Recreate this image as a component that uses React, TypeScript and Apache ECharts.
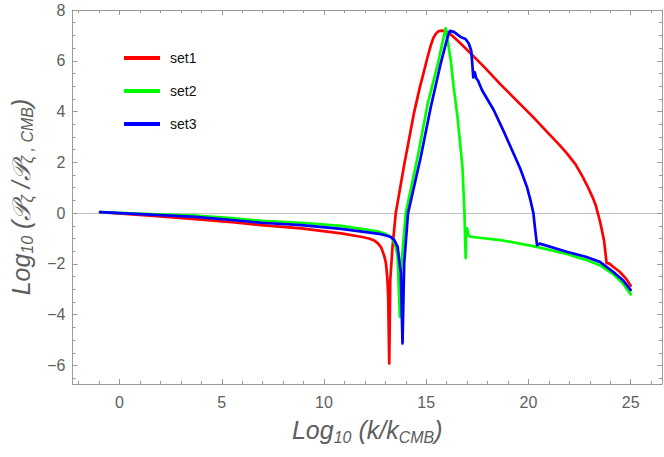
import React, { useEffect, useRef } from "react";
import * as echarts from "echarts";

const seriesNames = ["set1", "set2", "set3"];
const seriesColors = ["#ff0000", "#00ff00", "#0000ff"];

const set1: [number, number][] = [
  [-0.95, 0.04], [1.5, -0.1], [3.7, -0.24], [5.5, -0.36], [6.94, -0.47], [8.89, -0.6],
  [10.84, -0.8], [11.8, -0.93], [12.2, -1.0], [12.46, -1.08], [12.65, -1.2], [12.8, -1.36],
  [12.95, -1.7], [13.03, -1.98], [13.1, -2.6], [13.14, -3.3], [13.19, -5.92], [13.22, -4.0],
  [13.24, -2.64], [13.35, -1.33], [13.51, 0], [13.9, 1.81], [14.4, 3.94], [14.7, 5.0],
  [14.88, 5.55], [15.05, 6.1], [15.22, 6.6], [15.35, 6.9], [15.46, 7.05], [15.56, 7.14],
  [15.65, 7.17], [15.75, 7.19], [15.85, 7.18], [16.04, 7.13], [16.3, 6.97], [16.67, 6.69],
  [17.16, 6.3], [17.9, 5.7], [18.62, 5.08], [19.4, 4.45], [20.23, 3.78], [21.0, 3.12],
  [21.5, 2.7], [21.88, 2.35], [22.3, 1.92], [22.66, 1.42], [22.95, 0.95], [23.15, 0.6],
  [23.3, 0.28], [23.39, 0], [23.5, -0.33], [23.59, -0.67], [23.7, -1.1], [23.82, -1.97],
  [23.94, -1.98], [24.14, -2.11], [24.46, -2.31], [24.79, -2.6], [25.0, -2.86],
];

const set2: [number, number][] = [
  [-0.95, 0.04], [1.5, -0.04], [3.7, -0.1], [5.5, -0.2], [6.94, -0.3], [8.89, -0.38],
  [10.84, -0.5], [12.14, -0.66], [12.7, -0.74], [12.95, -0.8], [13.2, -0.9], [13.35, -1.0],
  [13.5, -1.3], [13.6, -1.72], [13.71, -4.08], [13.79, -1.98], [14.0, 0], [14.6, 2.3],
  [15.07, 4.3], [15.56, 5.85], [15.85, 6.93], [15.95, 7.28], [16.2, 6.02], [16.34, 4.96],
  [16.53, 3.78], [16.77, 1.81], [16.87, 0], [16.9, -1.0], [16.93, -1.77], [16.96, -0.7],
  [17.0, -0.6], [17.05, -0.85], [17.16, -0.93], [18.62, -1.06], [20.41, -1.33], [21.87, -1.61],
  [22.8, -1.84], [23.49, -2.05], [24.14, -2.4], [24.62, -2.77], [25.0, -3.2],
];

const set3: [number, number][] = [
  [-0.95, 0.04], [1.5, -0.06], [3.7, -0.15], [5.5, -0.27], [6.94, -0.38], [8.89, -0.47],
  [10.84, -0.62], [12.14, -0.76], [12.7, -0.82], [12.95, -0.86], [13.27, -0.94], [13.45, -1.08],
  [13.6, -1.33], [13.76, -2.37], [13.84, -5.13], [13.92, -1.98], [14.11, 0], [14.73, 2.2],
  [15.22, 4.17], [15.71, 5.9], [16.04, 6.93], [16.16, 7.18], [16.35, 7.14], [16.68, 6.94],
  [16.92, 6.86], [17.08, 6.68], [17.2, 6.4], [17.25, 5.9], [17.3, 5.35], [17.37, 5.55],
  [17.45, 5.3], [17.52, 5.24], [17.73, 4.84], [18.3, 4.06], [18.8, 3.2], [19.27, 2.35],
  [19.6, 1.75], [19.92, 1.04], [20.1, 0.5], [20.24, 0], [20.33, -0.67], [20.42, -1.26],
  [20.55, -1.2], [21.87, -1.52], [22.8, -1.72], [23.49, -1.92], [24.14, -2.31], [24.62, -2.64],
  [25.0, -3.03],
];

const xMajorTicks = [0, 5, 10, 15, 20, 25];
const yMajorTicks = [-6, -4, -2, 0, 2, 4, 6, 8];
const xRange = [-2.3, 26.53];
const yRange = [-6.73, 8.0];

const xMinorTicks: number[] = [];
for (let v = -2; v <= 26; v += 1) if (v % 5 !== 0) xMinorTicks.push(v);
const yMinorTicks: number[] = [];
for (let v = -6.5; v <= 7.5; v += 0.5) if (v % 2 !== 0) yMinorTicks.push(v);

const FRAME = "#9a9a9a";
const LABEL = "#5e5e5e";
const FONT = "'Liberation Sans', Arial, sans-serif";

const titleRich = {
  m: { fontSize: 25, fontStyle: "italic", color: LABEL, fontFamily: FONT, lineHeight: 30, verticalAlign: "middle" },
  s: { fontSize: 16, fontStyle: "italic", color: LABEL, fontFamily: FONT, lineHeight: 16, verticalAlign: "bottom" },
};

function makeAxis(dim: "x" | "y", position: string, ticks: number[], len: number, main: boolean, labels: boolean, extra: any = {}) {
  const range = dim === "x" ? xRange : yRange;
  return {
    type: "value",
    position,
    min: range[0],
    max: range[1],
    axisLine: { show: main, onZero: false, lineStyle: { color: FRAME, width: 1 } },
    axisTick: { show: true, inside: true, length: len, customValues: ticks, lineStyle: { color: FRAME, width: 1 } },
    axisLabel: labels
      ? {
          show: true,
          customValues: ticks,
          color: LABEL,
          fontSize: 16,
          fontFamily: FONT,
          margin: dim === "x" ? 10 : 7,
          formatter: (v: number) => String(v).replace("-", "\u2212"),
        }
      : { show: false },
    splitLine: { show: false },
    ...extra,
  };
}

export default function App() {
  const ref = useRef<HTMLDivElement>(null);
  useEffect(() => {
    if (!ref.current) return;
    const chart = echarts.init(ref.current, null, { renderer: "svg" });
    const datas = [set1, set2, set3];
    chart.setOption({
      animation: false,
      backgroundColor: "#ffffff",
      grid: { left: 70, top: 10, width: 592, height: 374, containLabel: false },
      legend: {
        orient: "vertical",
        left: 119,
        top: 44,
        itemWidth: 36,
        itemHeight: 4,
        itemGap: 15,
        icon: "rect",
        data: seriesNames,
        textStyle: { fontSize: 14, fontFamily: FONT, color: "#111", lineHeight: 18, padding: [0, 0, 0, 5] },
      },
      xAxis: [
        makeAxis("x", "bottom", xMajorTicks, 5, true, true, {
          name: "{m|Log}{s|10}{m| (k/k}{s|CMB}{m|)}",
          nameLocation: "middle",
          nameGap: 31,
          nameTextStyle: { rich: titleRich },
        }),
        makeAxis("x", "bottom", xMinorTicks, 3, false, false),
        makeAxis("x", "top", xMajorTicks, 5, true, false),
        makeAxis("x", "top", xMinorTicks, 3, false, false),
        {
          type: "value",
          position: "bottom",
          min: xRange[0],
          max: xRange[1],
          axisLine: { show: true, onZero: true, onZeroAxisIndex: 0, lineStyle: { color: "#c0c0c0", width: 1 } },
          axisTick: { show: false },
          axisLabel: { show: false },
          splitLine: { show: false },
        },
      ],
      yAxis: [
        makeAxis("y", "left", yMajorTicks, 5, true, true, {
          name: "{m|Log}{s|10}{m| (\uD835\uDCAB}{s|\u03B6}{m| /\uD835\uDCAB}{s|\u03B6 , CMB}{m|)}",
          nameLocation: "middle",
          nameGap: 37,
          nameRotate: 90,
          nameTextStyle: { rich: titleRich },
        }),
        makeAxis("y", "left", yMinorTicks, 3, false, false),
        makeAxis("y", "right", yMajorTicks, 5, true, false),
        makeAxis("y", "right", yMinorTicks, 3, false, false),
      ],
      series: datas.map((d, i) => ({
        name: seriesNames[i],
        type: "line",
        xAxisIndex: 0,
        yAxisIndex: 0,
        data: d,
        showSymbol: false,
        symbol: "none",
        color: seriesColors[i],
        lineStyle: { color: seriesColors[i], width: 2.7, join: "round", cap: "round" },
        z: 3 + i,
      })),
    });
    return () => chart.dispose();
  }, []);
  return <div ref={ref} style={{ position: "fixed", left: 0, top: 0, width: 664, height: 457 }} />;
}
